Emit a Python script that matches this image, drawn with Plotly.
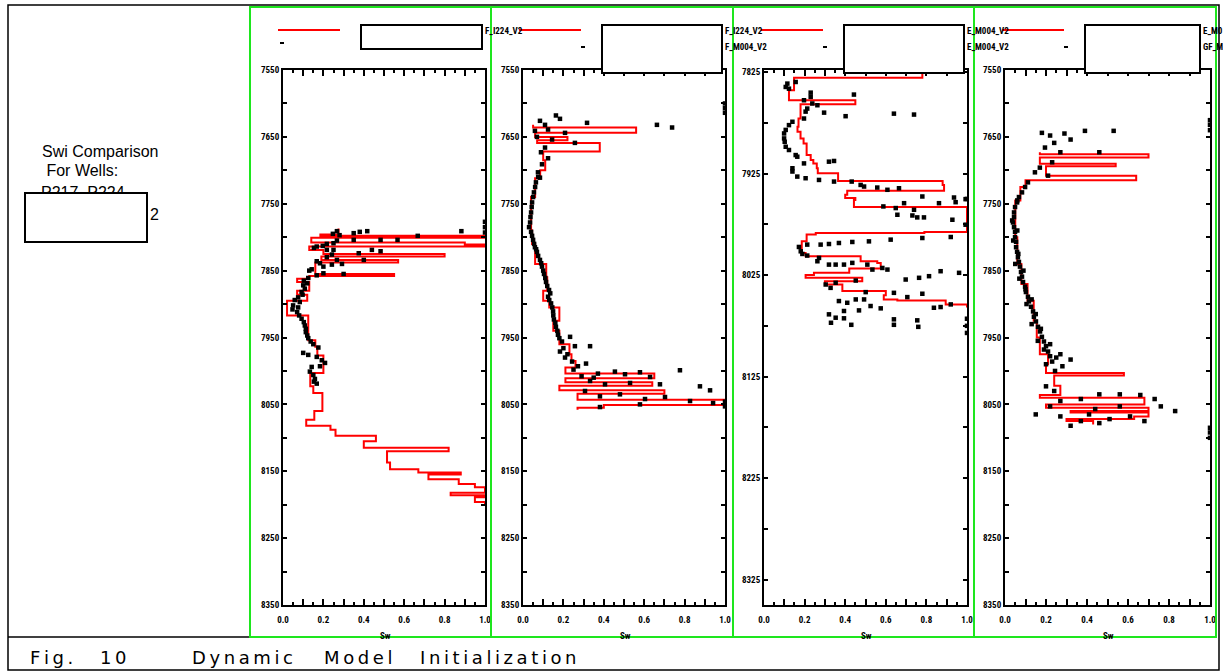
import plotly.graph_objects as go

W, H = 1223, 672

# ---------------- data ----------------
sw_tickvals = [0.0, 0.1, 0.2, 0.3, 0.4, 0.5, 0.6, 0.7, 0.8, 0.9, 1.0]
sw_ticktext = ["0.0", "", "0.2", "", "0.4", "", "0.6", "", "0.8", "", "1.0"]

depth_ticks_a = [7550, 7600, 7650, 7700, 7750, 7800, 7850, 7900, 7950, 8000, 8050,
                 8100, 8150, 8200, 8250, 8300, 8350]
depth_text_a = ["7550", "", "7650", "", "7750", "", "7850", "", "7950", "", "8050",
                "", "8150", "", "8250", "", "8350"]
depth_ticks_b = [7825, 7875, 7925, 7975, 8025, 8075, 8125, 8175, 8225, 8275, 8325]
depth_text_b = ["7825", "", "7925", "", "8025", "", "8125", "", "8225", "", "8325"]

# Panel 1 model Sw (step curve: interval tops and Sw values)
p1_red_top = [7787, 7796, 7798, 7801, 7808, 7811, 7814, 7819, 7825, 7829,
              7834, 7838, 7855, 7858, 7862, 7867, 7880, 7886, 7895, 7917,
              7954, 7964, 7977, 8003, 8023, 8033, 8060, 8073, 8082, 8088,
              8097, 8105, 8115, 8120, 8137, 8147, 8152, 8155, 8162, 8169,
              8174, 8182, 8186, 8189, 8196]
p1_red_sw = [0.275, 0.185, 1.0, 0.14, 0.90, 1.0, 0.13, 0.20, 0.80, 0.19,
             0.57, 0.16, 0.55, 0.13, 0.07, 0.13, 0.07, 0.12, 0.02, 0.125,
             0.16, 0.17, 0.20, 0.135, 0.15, 0.195, 0.155, 0.115, 0.235, 0.26,
             0.46, 0.40, 0.82, 0.515, 0.53, 0.67, 0.88, 0.72, 0.87, 0.95,
             1.0, 0.83, 1.0, 0.95, 1.0]
p1_red_base = 8200

p1_log_sw = [0.267, 0.247, 0.28, 0.35, 0.38, 0.417, 0.883, 0.667, 0.567, 0.483,
             0.35, 0.267, 0.25, 0.217, 0.197, 0.167, 0.153, 0.217, 0.25, 0.44,
             0.483, 0.375, 0.242, 0.217, 0.267, 0.4, 0.167, 0.183, 0.242, 0.292,
             0.2, 0.142, 0.13, 0.2, 0.3, 0.167, 0.125, 0.103, 0.12, 0.1,
             0.108, 0.092, 0.097, 0.075, 0.058, 0.083, 0.05, 0.075, 0.047, 0.07,
             0.08, 0.092, 0.103, 0.108, 0.113, 0.113, 0.12, 0.125, 0.137, 0.15,
             0.175, 0.1, 0.125, 0.167, 0.192, 0.208, 0.183, 0.142, 0.133, 0.15,
             0.158, 0.167, 0.153, 1.0, 1.0, 1.0]
p1_log_depth = [7791, 7795, 7797, 7794, 7792, 7791, 7791, 7798, 7804, 7804,
                7804, 7805, 7809, 7810, 7813, 7814, 7816, 7819, 7819, 7819,
                7821, 7824, 7826, 7830, 7834, 7834, 7836, 7839, 7841, 7840,
                7844, 7848, 7850, 7854, 7855, 7857, 7861, 7865, 7869, 7872,
                7877, 7882, 7886, 7890, 7894, 7897, 7902, 7905, 7908, 7912,
                7917, 7922, 7927, 7932, 7937, 7942, 7947, 7951, 7956, 7960,
                7965, 7973, 7976, 7979, 7984, 7988, 7993, 7994, 8001, 8006,
                8012, 8019, 8016, 7777, 7785, 7793]

# Panel 2
p2_red_top = [7632, 7636, 7644, 7650, 7655, 7659, 7672, 7685, 7700, 7712,
              7740, 7790, 7810, 7840, 7860, 7880, 7895, 7905, 7925, 7940,
              7960, 7975, 7985, 7995, 8004, 8011, 8017, 8022, 8029, 8034,
              8043, 8051, 8055]
p2_red_sw = [0.05, 0.56, 0.06, 0.22, 0.07, 0.38, 0.10, 0.11, 0.085, 0.06,
             0.04, 0.045, 0.06, 0.115, 0.12, 0.10, 0.13, 0.18, 0.15, 0.18,
             0.23, 0.24, 0.26, 0.21, 0.65, 0.21, 0.64, 0.18, 0.70, 0.27,
             1.0, 0.40, 0.27]
p2_red_base = 8058

p2_log_sw = [0.163, 0.183, 0.084, 0.109, 0.317, 0.663, 0.738, 0.059, 0.124, 0.069,
             0.144, 0.208, 0.257, 0.109, 0.089, 0.124, 0.094, 0.074, 0.084, 0.064,
             0.054, 0.045, 0.040, 0.035, 0.040, 0.050, 0.059, 0.069, 0.084, 0.094,
             0.104, 0.114, 0.129, 0.124, 0.139, 0.149, 0.153, 0.163, 0.173, 0.193,
             0.233, 0.257, 0.183, 0.208, 0.243, 0.272, 0.312, 0.332, 0.371, 0.455,
             0.505, 0.579, 0.629, 0.777, 0.332, 0.406, 0.530, 0.678, 0.876, 0.926,
             0.307, 0.381, 0.480, 0.604, 0.703, 0.827, 0.941, 0.381, 0.579,
             1.0, 1.0, 1.0, 1.0, 1.0,
             0.075, 0.06, 0.05, 0.043, 0.037, 0.03, 0.045, 0.055, 0.065, 0.075,
             0.09, 0.10, 0.11, 0.12, 0.135, 0.13, 0.145, 0.15, 0.16, 0.17,
             0.18, 0.20, 0.22, 0.25, 0.29, 0.35]
p2_log_depth = [7618, 7623, 7626, 7632, 7629, 7632, 7636, 7641, 7639, 7650,
                7654, 7644, 7659, 7666, 7673, 7682, 7691, 7703, 7711, 7718,
                7733, 7748, 7763, 7778, 7792, 7804, 7815, 7822, 7834, 7844,
                7855, 7867, 7879, 7889, 7899, 7911, 7923, 7934, 7946, 7956,
                7949, 7963, 7971, 7980, 7986, 7993, 7989, 7963, 8004, 8001,
                8005, 8002, 8009, 7999, 8015, 8020, 8018, 8020, 8023, 8029,
                8030, 8038, 8035, 8042, 8039, 8045, 8048, 8054, 8050,
                7600, 7607, 7614, 8046, 8053,
                7710, 7725, 7740, 7755, 7770, 7785, 7798, 7810, 7818, 7828,
                7839, 7850, 7861, 7873, 7884, 7894, 7905, 7917, 7928, 7940,
                7951, 7966, 7975, 7998, 8008, 8010]

# Panel 3
p3_red_top = [7822, 7830.6, 7843, 7852.8, 7856.7, 7870.8, 7879, 7883.9, 7890.4, 7895.3,
              7906.8, 7911.7, 7915, 7919.8, 7924.7, 7932.3, 7936.2, 7942, 7946, 7949,
              7951, 7958, 7982.6, 7983.6, 7985, 7991.8, 8003.2, 8006.5, 8011.4, 8013,
              8018.6, 8022.8, 8025, 8027.7, 8031, 8034.3, 8040.8, 8045, 8049, 8050,
              8053.9]
p3_red_sw = [0.78, 0.148, 0.123, 0.45, 0.18, 0.17, 0.165, 0.18, 0.195, 0.21,
             0.23, 0.243, 0.26, 0.265, 0.365, 0.88, 0.887, 0.41, 0.40, 0.45,
             0.443, 1.0, 0.79, 0.255, 0.21, 0.186, 0.205, 0.476, 0.558, 0.575,
             0.42, 0.246, 0.205, 0.484, 0.30, 0.386, 0.60, 0.59, 0.657, 0.895,
             1.0]
p3_red_base = 8057

p3_log_sw = [0.115, 0.107, 0.123, 0.156, 0.197, 0.23, 0.238, 0.263, 0.213, 0.205,
             0.296, 0.197, 0.14, 0.123, 0.107, 0.099, 0.099, 0.102, 0.107, 0.123,
             0.156, 0.164, 0.197, 0.14, 0.14, 0.164, 0.205, 0.271, 0.345, 0.345,
             0.32, 0.23, 0.443, 0.402, 0.64, 0.739, 0.432, 0.476, 0.493, 0.558,
             0.608, 0.665, 0.78, 0.862, 0.936, 0.944, 0.993, 0.588, 0.649, 0.69,
             0.739, 0.731, 0.755, 0.788, 0.657, 0.928, 0.993, 0.78, 0.92, 0.624,
             0.517, 0.435, 0.369, 0.32, 0.279, 0.213, 0.172, 0.181, 0.189, 0.213,
             0.271, 0.263, 0.32, 0.353, 0.394, 0.435, 0.509, 0.534, 0.608, 0.583,
             0.304, 0.328, 0.353, 0.452, 0.698, 0.764, 0.813, 0.87, 0.961, 0.64,
             0.501, 0.706, 0.78, 0.369, 0.41, 0.394, 0.452, 0.493, 0.525, 0.575,
             0.468, 0.32, 0.353, 0.394, 0.64, 0.755, 0.837, 0.87, 0.92,
             0.33, 0.43, 0.64, 0.76,
             1.0, 1.0, 1.0, 1.0]
p3_log_depth = [7836.4, 7839.7, 7841.4, 7834.8, 7852.8, 7849.5, 7856, 7857.7, 7861, 7864,
                7865, 7870.8, 7874, 7877.3, 7882, 7885.5, 7890.4, 7893.7, 7898.6, 7901.8,
                7906.8, 7908.4, 7915, 7919.8, 7923, 7928, 7929.6, 7931.3, 7932.9, 7912.6,
                7913.3, 7845.3, 7847.2, 7868.5, 7866, 7866.9, 7932.9, 7936.2, 7937.8, 7938.8,
                7941, 7939.5, 7947.6, 7954.2, 7948.6, 7953.2, 7950.2, 7957.4, 7959, 7954.2,
                7960.7, 7966.3, 7968.2, 7968.2, 7965.6, 7970.5, 7975.4, 7988.5, 7987.5, 7990.1,
                7991.8, 7992.4, 7993.4, 7994.4, 7995, 7995, 7997.3, 8001.6, 8004.2, 8005.8,
                8008.1, 8011.4, 8014.7, 8014.7, 8014.7, 8013, 8014.7, 8019.6, 8019.6, 8018,
                8034.3, 8037.6, 8032.6, 8030.4, 8029.4, 8027.7, 8026.1, 8021.2, 8022.8, 8042.5,
                8041.8, 8046.7, 8043.4, 8050.6, 8052.3, 8060.4, 8049, 8049, 8055.5, 8057.8,
                8059.8, 8063.7, 8067, 8067.6, 8068.6, 8069.6, 8057.2, 8056.5, 8053.9,
                8072, 8074, 8074, 8076,
                7950, 8068, 8075, 8082]

# Panel 4
p4_red_top = [7673, 7676, 7681, 7690, 7694, 7708, 7715, 7725, 7745, 7800,
              7840, 7870, 7895, 7925, 7950, 7975, 7990, 8003, 8007, 8022,
              8036, 8040, 8050, 8055, 8060, 8062, 8068, 8072, 8075]
p4_red_sw = [0.17, 0.70, 0.17, 0.54, 0.20, 0.64, 0.10, 0.075, 0.05, 0.06,
             0.08, 0.11, 0.14, 0.155, 0.17, 0.21, 0.20, 0.58, 0.24, 0.27,
             0.17, 0.68, 0.20, 0.70, 0.32, 0.70, 0.63, 0.30, 0.43]
p4_red_base = 8080

p4_log_sw = [0.18, 0.22, 0.29, 0.39, 0.53, 0.24, 0.32, 0.27, 0.46, 0.195,
             0.23, 0.17, 0.146, 0.21, 0.112, 0.098, 0.083, 0.068, 0.059, 0.049,
             0.044, 0.044, 0.039, 0.044, 0.049, 0.049, 0.054, 0.054, 0.059, 0.063,
             0.068, 0.073, 0.078, 0.083, 0.088, 0.098, 0.102, 0.112, 0.117, 0.127,
             0.137, 0.141, 0.151, 0.161, 0.171, 0.18, 0.19, 0.2, 0.21, 0.22,
             0.23, 0.27, 0.32, 0.28, 0.244,
             0.46, 0.56, 0.66, 0.37, 0.76, 0.83, 0.27, 0.37, 0.46, 0.61,
             0.68, 0.32, 0.41, 0.51, 0.22, 0.73, 0.44, 0.15, 0.27, 0.56,
             0.2, 0.24,
             1.0, 1.0, 1.0, 1.0, 1.0, 1.0,
             0.06, 0.035, 0.06, 0.04, 0.065, 0.05, 0.09, 0.07, 0.1, 0.13,
             0.105, 0.15, 0.13, 0.175, 0.16, 0.22, 0.19, 0.25, 0.2]
p4_log_depth = [7644, 7648, 7645, 7641, 7641, 7659, 7654, 7673, 7673, 7666,
                7688, 7696, 7703, 7708, 7718, 7725, 7733, 7740, 7748, 7755,
                7763, 7770, 7778, 7785, 7792, 7800, 7807, 7815, 7822, 7830,
                7837, 7844, 7852, 7859, 7867, 7874, 7882, 7889, 7896, 7904,
                7911, 7919, 7926, 7934, 7941, 7949, 7956, 7963, 7971, 7978,
                7986, 7975, 7983, 7993, 8000,
                8035, 8035, 8036, 8042, 8053, 8060, 8068, 8075, 8078, 8068,
                8075, 8082, 8065, 8072, 8053, 8042, 8057, 8065, 8045, 8053,
                8023, 8030,
                7625, 7632, 7640, 8085, 8092, 8100,
                7745, 7775, 7790, 7805, 7825, 7840, 7850, 7862, 7878, 7893,
                7900, 7915, 7930, 7937, 7955, 7960, 7968, 7980, 7990]

left_title = ["Swi Comparison", " For Wells:"]
left_wells = "P217, P224,"
legend_row1 = ["F_I224_V2", "F_I224_V2", "E_M004_V2", "E_M0"]
legend_row2 = ["", "F_M004_V2", "E_M004_V2", "GF_M"]

# ---------------- layout helpers ----------------
def px(x):
    return x / W


def py(y):
    return 1 - y / H


SMALL = "Liberation Sans Narrow, Roboto Condensed, Arial Narrow, sans-serif"
TICKFONT = dict(family=SMALL, size=9, color="black", weight="bold")

frames_x = [(283, 485), (523, 725), (764, 967), (1005, 1210)]
green_x = [(250, 491), (491, 733), (733, 974), (974, 1216)]
frame_y = (70, 605)

panels = [
    (p1_red_top, p1_red_sw, p1_red_base, p1_log_sw, p1_log_depth, [8350, 7550], depth_ticks_a, depth_text_a),
    (p2_red_top, p2_red_sw, p2_red_base, p2_log_sw, p2_log_depth, [8350, 7550], depth_ticks_a, depth_text_a),
    (p3_red_top, p3_red_sw, p3_red_base, p3_log_sw, p3_log_depth, [8350, 7823], depth_ticks_b, depth_text_b),
    (p4_red_top, p4_red_sw, p4_red_base, p4_log_sw, p4_log_depth, [8350, 7550], depth_ticks_a, depth_text_a),
]

fig = go.Figure()
layout = dict(
    width=W, height=H, autosize=False,
    margin=dict(l=0, r=0, t=0, b=0, pad=0, autoexpand=False),
    paper_bgcolor="white", plot_bgcolor="white", showlegend=False,
)

for i, (rtop, rsw, rbase, lsw, ldep, yr, yt, ytt) in enumerate(panels):
    n = "" if i == 0 else str(i + 1)
    xa, ya = "x" + n, "y" + n
    fig.add_trace(go.Scatter(
        x=list(rsw) + [rsw[-1]], y=list(rtop) + [rbase], mode="lines",
        line=dict(color="#ff0000", width=2, shape="vh"), xaxis=xa, yaxis=ya,
        hoverinfo="skip"))
    fig.add_trace(go.Scatter(
        x=lsw, y=ldep, mode="markers",
        marker=dict(symbol="square", size=4.5, color="black", line=dict(width=0)),
        xaxis=xa, yaxis=ya, hoverinfo="skip"))
    x0, x1 = frames_x[i]
    layout["xaxis" + n] = dict(
        domain=[px(x0), px(x1)], range=[0, 1], anchor=ya, automargin=False,
        showgrid=False, zeroline=False, showline=True, linecolor="black", linewidth=2,
        mirror="ticks", ticks="inside", ticklen=6, tickwidth=1.5, tickcolor="black",
        tickmode="array", tickvals=sw_tickvals, ticktext=sw_ticktext,
        tickfont=TICKFONT, ticklabelstandoff=5,
        minor=dict(dtick=0.05, tick0=0.05, ticks="inside", ticklen=3,
                   tickwidth=1.5, tickcolor="black", showgrid=False),
        fixedrange=True)
    layout["yaxis" + n] = dict(
        domain=[py(frame_y[1]), py(frame_y[0])], range=yr, anchor=xa, automargin=False,
        showgrid=False, zeroline=False, showline=True, linecolor="black", linewidth=2,
        mirror="ticks", ticks="inside", ticklen=4, tickwidth=1.5, tickcolor="black",
        tickmode="array", tickvals=yt, ticktext=ytt,
        tickfont=TICKFONT, fixedrange=True)

shapes = []
annotations = []

# outer frame
shapes.append(dict(type="rect", xref="paper", yref="paper", x0=px(8), x1=px(1219), y0=py(670), y1=py(5),
                   line=dict(color="black", width=1.5), layer="below"))
shapes.append(dict(type="line", xref="paper", yref="paper", x0=px(8), x1=px(250), y0=py(637), y1=py(637),
                   line=dict(color="black", width=1.5)))

for i in range(4):
    gx0, gx1 = green_x[i]
    shapes.append(dict(type="rect", xref="paper", yref="paper", x0=px(gx0), x1=px(gx1),
                       y0=py(637), y1=py(7), line=dict(color="#1ee61e", width=2), layer="above"))
    fx0, fx1 = frames_x[i]
    shapes.append(dict(type="line", xref="paper", yref="paper", x0=px(gx0 + 28), x1=px(gx0 + 90),
                       y0=py(30), y1=py(30), line=dict(color="#ff0000", width=2)))
    dash_x = gx0 + 30 if i == 0 else gx0 + 90
    dash_y = 43 if i == 0 else 47
    shapes.append(dict(type="line", xref="paper", yref="paper", x0=px(dash_x), x1=px(dash_x + 4),
                       y0=py(dash_y), y1=py(dash_y), line=dict(color="black", width=2)))
    bx0 = gx0 + 111
    bx1 = fx1 - 3 if i < 3 else 1200
    by1 = 49 if i == 0 else 73
    shapes.append(dict(type="rect", xref="paper", yref="paper", x0=px(bx0), x1=px(bx1),
                       y0=py(by1), y1=py(25), line=dict(color="black", width=2),
                       fillcolor="white", layer="above"))
    annotations.append(dict(x=px(bx1 + 1), y=py(31), xref="paper", yref="paper", text=legend_row1[i],
                            showarrow=False, xanchor="left", yanchor="middle",
                            font=dict(family=SMALL, size=9, color="black", weight="bold")))
    if legend_row2[i]:
        annotations.append(dict(x=px(bx1 + 1), y=py(47), xref="paper", yref="paper", text=legend_row2[i],
                                showarrow=False, xanchor="left", yanchor="middle",
                                font=dict(family=SMALL, size=9, color="black", weight="bold")))
    annotations.append(dict(x=px((fx0 + fx1) / 2 + 1), y=py(636), xref="paper", yref="paper", text="Sw",
                            showarrow=False, xanchor="center", yanchor="middle",
                            font=dict(family=SMALL, size=9, color="black", weight="bold")))

# left text block
for k, t in enumerate(left_title):
    annotations.append(dict(x=px(40), y=py(151 + 19 * k), xref="paper", yref="paper", text=t,
                            showarrow=False, xanchor="left", yanchor="middle",
                            font=dict(family="Liberation Sans, Arial, sans-serif", size=16, color="black")))
# well list, cut off by the box below it (explicit short annotation height clips the text)
annotations.append(dict(x=px(40), y=py(183), xref="paper", yref="paper", text=left_wells,
                        showarrow=False, xanchor="left", yanchor="top", height=10, valign="top",
                        borderpad=0, font=dict(family="Liberation Sans, Arial, sans-serif", size=16, color="black")))
shapes.append(dict(type="rect", xref="paper", yref="paper", x0=px(25), x1=px(147), y0=py(242), y1=py(193),
                   line=dict(color="black", width=2), fillcolor="white", layer="above"))
annotations.append(dict(x=px(148), y=py(214), xref="paper", yref="paper", text="2",
                        showarrow=False, xanchor="left", yanchor="middle",
                        font=dict(family="Liberation Sans, Arial, sans-serif", size=16, color="black")))

cap_font = dict(family="DejaVu Sans, sans-serif", size=18, color="black")
for word, xw in [("Fig.", 28), ("10", 98), ("Dynamic", 190), ("Model", 322), ("Initialization", 418)]:
    annotations.append(dict(x=px(xw), y=py(657), xref="paper", yref="paper",
                            text="\u2009".join(word), showarrow=False, xanchor="left", yanchor="middle",
                            font=cap_font))

layout["shapes"] = shapes
layout["annotations"] = annotations
fig.update_layout(**layout)
fig.write_html("out.html")
